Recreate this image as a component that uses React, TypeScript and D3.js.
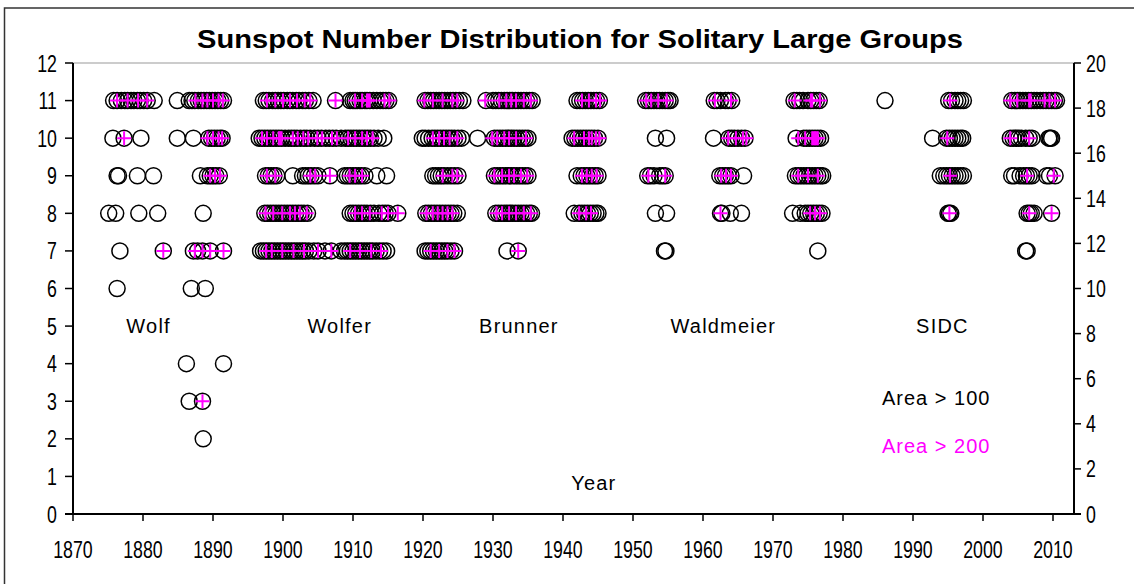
import React from 'react';
import * as d3 from 'd3';

// years of solitary large groups (area > 100), one list per sunspot number row
const area100_11 = [
  1875.8, 1876.3, 1876.9, 1877.4, 1877.8, 1878.3, 1878.7, 1879.2, 1879.6, 1880.1, 1880.6, 1881.6,
  1884.9, 1886.6, 1887.0, 1887.4, 1887.9, 1888.3, 1888.7, 1889.1, 1889.5, 1889.9, 1890.3, 1890.7, 1891.1, 1891.5,
  1897.2, 1897.6, 1898.0, 1898.5, 1898.9, 1899.3, 1899.7, 1900.1, 1900.6, 1901.0, 1901.4, 1901.9, 1902.3, 1902.8, 1903.2, 1903.7, 1904.3,
  1907.5, 1909.6, 1910.0, 1910.3, 1910.6, 1911.0, 1911.3, 1911.7, 1912.0, 1912.4, 1912.9, 1913.4, 1913.9, 1914.3, 1914.7, 1915.1,
  1920.3, 1920.7, 1921.1, 1921.5, 1921.9, 1922.3, 1922.7, 1923.1, 1923.5, 1923.9, 1924.3, 1924.7, 1925.2, 1925.7,
  1929.0, 1930.0, 1930.4, 1930.8, 1931.2, 1931.6, 1932.0, 1932.4, 1932.8, 1933.2, 1933.6, 1934.0, 1934.4, 1934.8, 1935.2, 1935.6,
  1942.0, 1942.4, 1942.8, 1943.2, 1943.6, 1944.0, 1944.4, 1944.8, 1945.2,
  1951.8, 1952.2, 1952.6, 1953.0, 1953.4, 1953.8, 1954.2, 1954.6, 1955.0, 1955.3,
  1961.6, 1962.0, 1962.5, 1963.2, 1963.6, 1964.1,
  1973.0, 1973.4, 1973.8, 1974.3, 1975.0, 1975.4, 1975.8, 1976.2, 1976.6,
  1986.0, 1995.1, 1995.5, 1996.0, 1996.4, 1996.8, 1997.2,
  2004.1, 2004.5, 2004.9, 2005.3, 2005.7, 2006.1, 2006.5, 2006.9, 2007.3, 2007.7, 2008.2, 2008.6, 2009.0, 2009.4, 2009.8, 2010.2, 2010.5
];
const area100_10 = [
  1875.7, 1877.3, 1879.7, 1884.9, 1887.2, 1889.4, 1889.8, 1890.2, 1890.6, 1891.0, 1891.3,
  1896.6, 1897.0, 1897.4, 1897.8, 1898.2, 1898.6, 1899.0, 1899.4, 1899.8, 1900.3, 1900.8, 1901.2, 1901.6, 1902.0,
  1902.5, 1903.0, 1903.4, 1903.9, 1904.5, 1905.0, 1905.5, 1906.1, 1906.6, 1907.1, 1907.6, 1908.3, 1908.9, 1909.3,
  1909.7, 1910.1, 1910.5, 1910.9, 1911.3, 1911.7, 1912.1, 1912.5, 1913.0, 1913.6, 1914.4,
  1919.9, 1920.3, 1920.8, 1921.3, 1921.7, 1922.1, 1922.5, 1922.9, 1923.3, 1923.7, 1924.1, 1924.5, 1925.0, 1925.5,
  1927.8, 1930.2, 1930.6, 1931.0, 1931.4, 1931.8, 1932.2, 1932.6, 1933.0, 1933.4, 1933.8, 1934.2, 1934.6, 1935.0,
  1941.3, 1941.7, 1942.1, 1942.5, 1942.9, 1943.3, 1943.7, 1944.1, 1944.5, 1945.0, 1953.2, 1954.8,
  1961.5, 1963.7, 1964.1, 1964.5, 1965.0, 1965.5, 1966.0,
  1973.3, 1974.4, 1974.8, 1975.2, 1975.6, 1976.0, 1976.4, 1976.8,
  1992.8, 1994.8, 1995.2, 1995.6, 1996.0, 1996.4, 1996.8, 1997.1,
  2003.9, 2004.3, 2004.7, 2005.1, 2005.5, 2006.1, 2006.6, 2007.0, 2009.4, 2009.6, 2009.8
];
const area100_9 = [
  1876.3, 1876.5, 1879.2, 1881.5, 1888.2, 1889.2, 1889.6, 1890.0, 1890.4, 1890.9,
  1897.5, 1897.9, 1898.3, 1898.7, 1899.1, 1901.4, 1902.8, 1903.2, 1903.6, 1904.0, 1904.5, 1905.0, 1906.7,
  1908.8, 1909.2, 1909.6, 1910.0, 1910.4, 1910.8, 1911.2, 1911.7, 1913.4, 1914.8,
  1921.4, 1921.8, 1922.2, 1922.6, 1923.0, 1923.5, 1924.0, 1924.5, 1925.0,
  1930.2, 1930.6, 1931.0, 1931.4, 1931.8, 1932.2, 1932.6, 1933.0, 1933.4, 1933.8, 1934.2, 1934.6, 1935.0,
  1942.0, 1942.6, 1943.0, 1943.4, 1943.8, 1944.2, 1944.6, 1945.0,
  1952.1, 1952.5, 1953.0, 1953.8, 1954.2, 1954.6,
  1962.4, 1962.8, 1963.2, 1963.6, 1964.0, 1965.8,
  1973.2, 1973.6, 1974.0, 1974.4, 1974.8, 1975.2, 1975.6, 1976.0, 1976.4, 1976.8, 1977.1,
  1993.9, 1994.4, 1994.8, 1995.2, 1995.6, 1996.0, 1996.4, 1996.8, 1997.2,
  2004.1, 2004.5, 2005.3, 2005.8, 2006.2, 2006.6, 2007.0, 2009.1, 2009.5, 2010.3
];
const area100_8 = [
  1875.1, 1876.1, 1879.4, 1882.1, 1888.6,
  1897.4, 1897.8, 1898.2, 1898.6, 1899.0, 1899.4, 1899.8, 1900.2, 1900.6, 1901.0, 1901.4, 1901.8, 1902.2, 1902.6, 1903.0, 1903.5,
  1909.6, 1910.0, 1910.4, 1910.8, 1911.2, 1911.6, 1912.0, 1912.5, 1913.0, 1913.7, 1914.2, 1914.6, 1915.0, 1916.4,
  1920.4, 1920.8, 1921.2, 1921.6, 1922.0, 1922.4, 1922.8, 1923.2, 1923.6, 1924.0, 1924.4, 1924.9,
  1930.4, 1930.8, 1931.2, 1931.6, 1932.0, 1932.4, 1932.8, 1933.2, 1933.6, 1934.0, 1934.4, 1934.8, 1935.2, 1935.5,
  1941.6, 1942.3, 1942.7, 1943.1, 1943.5, 1943.9, 1944.3, 1944.7, 1945.0, 1953.2, 1954.8,
  1962.5, 1962.7, 1963.9, 1965.5,
  1972.8, 1973.9, 1974.6, 1975.0, 1975.4, 1975.8, 1976.2, 1976.6, 1977.0,
  1995.0, 1995.2, 1995.4, 2006.3, 2006.6, 2006.9, 2007.3, 2009.8
];
const area100_7 = [
  1876.7, 1882.9, 1887.2, 1887.8, 1888.5, 1889.6, 1891.5,
  1896.8, 1897.2, 1897.6, 1898.0, 1898.4, 1898.8, 1899.2, 1899.6, 1900.0, 1900.4, 1900.8, 1901.2, 1901.6, 1902.0,
  1902.4, 1902.8, 1903.2, 1903.7, 1904.4, 1905.0, 1906.0, 1906.9,
  1908.3, 1908.8, 1909.2, 1909.6, 1910.0, 1910.4, 1910.8, 1911.2, 1911.6, 1912.0, 1912.4, 1912.8, 1913.3, 1913.8, 1914.3, 1914.8,
  1920.3, 1920.7, 1921.1, 1921.5, 1921.9, 1922.3, 1922.7, 1923.1, 1923.5, 1924.0, 1924.5, 1932.0, 1933.6,
  1954.5, 1954.7, 1976.4, 2006.1, 2006.3
];
const area100_6 = [1876.3, 1886.9, 1888.9];
const area100_4 = [1886.2, 1891.5];
const area100_3 = [1886.6, 1888.5];
const area100_2 = [1888.6];

// years of groups with area > 200
const area200_11 = [
  1876.3, 1877.8, 1879.3, 1880.6, 1887.5, 1888.5, 1889.2, 1890.0, 1890.8, 1891.4,
  1897.7, 1898.9, 1900.0, 1901.0, 1902.0, 1903.1, 1903.9, 1907.5, 1910.3, 1911.3, 1912.0, 1912.2, 1912.4, 1914.5, 1915.2,
  1920.2, 1921.4, 1922.8, 1924.2, 1924.9, 1928.9, 1930.9, 1931.9, 1932.6, 1933.3, 1934.4, 1935.4,
  1942.7, 1943.7, 1944.7, 1945.3, 1951.9, 1952.6, 1953.6, 1954.8, 1961.7, 1964.0, 1973.1, 1975.4, 1975.6, 1976.7,
  1995.3, 2003.9, 2004.9, 2006.6, 2006.8, 2008.8, 2009.5, 2010.3
];
const area200_10 = [
  1877.3, 1889.2, 1890.0, 1890.8, 1891.3,
  1897.0, 1897.7, 1898.6, 1899.4, 1899.6, 1899.8, 1901.4, 1902.1, 1902.9, 1903.6, 1904.9, 1905.6, 1907.0, 1907.7,
  1909.3, 1910.3, 1911.3, 1912.0, 1912.8,
  1921.4, 1922.3, 1923.0, 1923.8, 1924.9, 1929.9, 1930.6, 1931.6, 1932.3, 1933.3, 1934.7,
  1941.6, 1943.0, 1943.7, 1944.1, 1944.7, 1945.2, 1963.6, 1964.7, 1965.7, 1966.2,
  1973.6, 1974.6, 1975.6, 1975.8, 1976.0, 1976.2, 1976.4, 1994.9, 2003.9, 2006.6
];
const area200_9 = [
  1889.6, 1890.3, 1891.0, 1897.7, 1898.9, 1903.9, 1904.6, 1906.7, 1909.5, 1910.3, 1911.3,
  1922.8, 1924.2, 1924.9, 1930.2, 1931.3, 1932.3, 1933.0, 1934.0, 1934.9,
  1942.7, 1943.4, 1944.1, 1944.8, 1952.2, 1954.6, 1962.6, 1963.3, 1964.0, 1973.6, 1975.0, 1976.4,
  1995.3, 2006.3, 2010.1
];
const area200_8 = [
  1897.5, 1898.6, 1899.9, 1901.0, 1901.7, 1902.4, 1903.4, 1910.3, 1911.3, 1912.4, 1914.1, 1915.0, 1916.4,
  1920.5, 1921.4, 1922.1, 1922.8, 1923.5, 1924.2, 1930.5, 1931.3, 1932.3, 1933.3, 1934.4, 1935.4,
  1942.3, 1943.3, 1944.0, 1962.5, 1975.3, 1976.0, 1976.7, 1995.2, 2006.6, 2009.8
];
const area200_7 = [
  1882.9, 1887.4, 1888.5, 1889.6, 1891.5, 1897.6, 1898.4, 1899.9, 1901.5, 1903.0, 1905.0, 1906.9,
  1909.6, 1911.0, 1912.6, 1914.0, 1921.1, 1922.3, 1923.5, 1924.5, 1933.6
];
const area200_3 = [1888.5];

const rows100 = [
  { value: 11, years: area100_11 }, { value: 10, years: area100_10 }, { value: 9, years: area100_9 },
  { value: 8, years: area100_8 }, { value: 7, years: area100_7 }, { value: 6, years: area100_6 },
  { value: 4, years: area100_4 }, { value: 3, years: area100_3 }, { value: 2, years: area100_2 }
];
const rows200 = [
  { value: 11, years: area200_11 }, { value: 10, years: area200_10 }, { value: 9, years: area200_9 },
  { value: 8, years: area200_8 }, { value: 7, years: area200_7 }, { value: 3, years: area200_3 }
];

const observers = ['Wolf', 'Wolfer', 'Brunner', 'Waldmeier', 'SIDC'];
const observerYears = [1880.8, 1908.1, 1933.7, 1962.9, 1994.2];
const xTicks = [1870, 1880, 1890, 1900, 1910, 1920, 1930, 1940, 1950, 1960, 1970, 1980, 1990, 2000, 2010];
const leftTicks = [0, 1, 2, 3, 4, 5, 6, 7, 8, 9, 10, 11, 12];
const rightTicks = [0, 2, 4, 6, 8, 10, 12, 14, 16, 18, 20];

const W = 1134;
const H = 584;
const font = 'Arial, "Liberation Sans", sans-serif';

export default function App() {
  const x = d3.scaleLinear().domain([1870, 2013]).range([73, 1074]);
  const y = d3.scaleLinear().domain([0, 12]).range([514, 63]);
  const y2 = d3.scaleLinear().domain([0, 20]).range([514, 63]);
  const [x0, x1] = x.range();

  // tick labels look tall and narrow in the original
  const narrow = (tx, ty, anchor, label) => (
    <text
      key={label + '-' + tx + '-' + ty}
      transform={`translate(${tx},${ty}) scale(0.74,1)`}
      textAnchor={anchor}
      fontSize={24}
      fill="#000"
    >
      {label}
    </text>
  );

  return (
    <div style={{ position: 'absolute', left: 0, top: 0 }}>
      <svg width={W} height={H} style={{ display: 'block', fontFamily: font, background: '#fff' }}>
        <rect x={4.5} y={8} width={W + 10} height={H + 10} fill="#fff" stroke="#333" strokeWidth={1.5} />

        <text
          transform="translate(580,48) scale(0.82,1)"
          textAnchor="middle"
          fontSize={26}
          fontWeight="bold"
          textLength={934}
          lengthAdjust="spacingAndGlyphs"
        >
          Sunspot Number Distribution for Solitary Large Groups
        </text>

        {/* top frame of the plot */}
        <line x1={x0} x2={x1} y1={y(12)} y2={y(12)} stroke="#999" strokeWidth={1} />

        {/* axes */}
        <line x1={x0} x2={x0} y1={y(12)} y2={y(0)} stroke="#000" strokeWidth={2} />
        <line x1={x1} x2={x1} y1={y(12)} y2={y(0)} stroke="#000" strokeWidth={2} />
        <line x1={x0 - 8} x2={x1 + 7} y1={y(0)} y2={y(0)} stroke="#000" strokeWidth={2} />

        {leftTicks.map(t => (
          <g key={'l' + t}>
            <line x1={x0 - 8} x2={x0} y1={y(t)} y2={y(t)} stroke="#000" strokeWidth={1.5} />
            {narrow(57, y(t) + 8.5, 'end', String(t))}
          </g>
        ))}
        {rightTicks.map(t => (
          <g key={'r' + t}>
            <line x1={x1} x2={x1 + 7} y1={y2(t)} y2={y2(t)} stroke="#000" strokeWidth={1.5} />
            {narrow(1086, y2(t) + 8.5, 'start', String(t))}
          </g>
        ))}
        {xTicks.map(t => (
          <g key={'x' + t}>
            <line x1={x(t)} x2={x(t)} y1={y(0)} y2={y(0) + 7} stroke="#000" strokeWidth={1.5} />
            {narrow(x(t), 558, 'middle', String(t))}
          </g>
        ))}

        {/* area > 100 */}
        {rows100.map(row =>
          row.years.map((yr, i) => (
            <circle
              key={'c' + row.value + '-' + i}
              cx={x(yr)}
              cy={y(row.value)}
              r={8}
              fill="none"
              stroke="#000"
              strokeWidth={1.5}
            />
          ))
        )}

        {/* area > 200 */}
        {rows200.map(row =>
          row.years.map((yr, i) => {
            const cx = x(yr);
            const cy = y(row.value);
            return (
              <path
                key={'p' + row.value + '-' + i}
                d={`M${cx - 7},${cy}H${cx + 7}M${cx},${cy - 7}V${cy + 7}`}
                stroke="#ff00ff"
                strokeWidth={2}
              />
            );
          })
        )}

        {observers.map((name, i) => (
          <text key={name} x={x(observerYears[i])} y={y(5) + 7} textAnchor="middle" fontSize={20} letterSpacing={1.2}>
            {name}
          </text>
        ))}

        <text x={x(1944.4)} y={490} textAnchor="middle" fontSize={20} letterSpacing={1.2}>Year</text>

        <text x={882} y={405} fontSize={20} letterSpacing={1}>Area &gt; 100</text>
        <text x={882} y={453} fontSize={20} letterSpacing={1} fill="#ff00ff">Area &gt; 200</text>
      </svg>
    </div>
  );
}
